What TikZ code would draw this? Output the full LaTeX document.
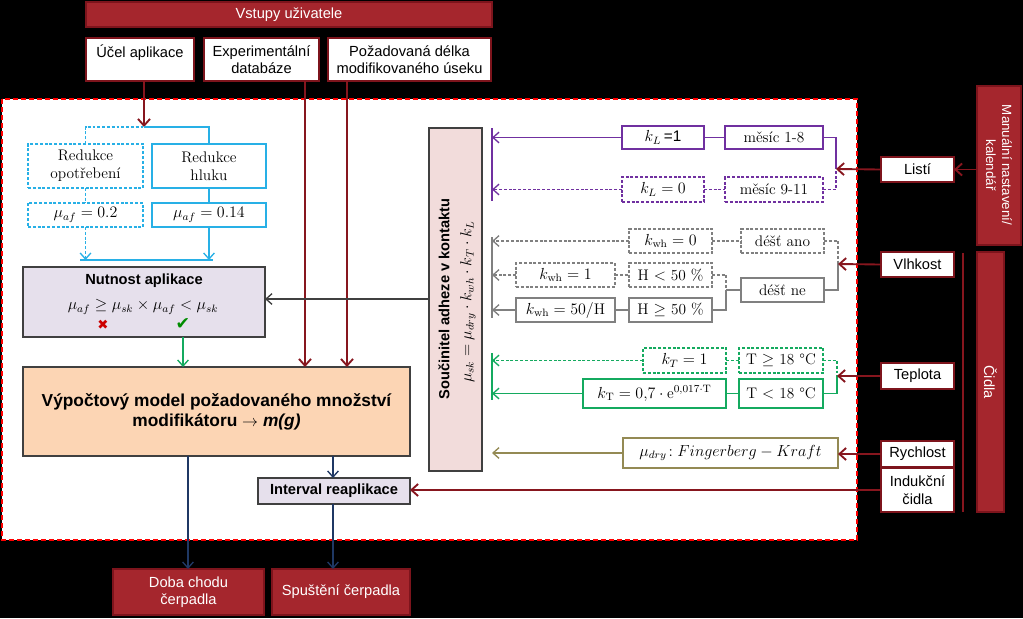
\documentclass[tikz,border=0pt]{standalone}
\usepackage{fontspec}
\newfontfamily\arial{Liberation Sans}
\newfontfamily\dejavu{DejaVu Sans}
\usetikzlibrary{arrows.meta}
\definecolor{hdrred}{RGB}{165,38,45}
\definecolor{hdrline}{RGB}{125,20,28}
\definecolor{dred}{RGB}{135,22,30}
\definecolor{cblue}{RGB}{40,176,230}
\definecolor{cpurple}{RGB}{112,48,160}
\definecolor{cgray}{RGB}{128,128,128}
\definecolor{cgreen}{RGB}{20,170,95}
\definecolor{colive}{RGB}{148,138,84}
\definecolor{cnavy}{RGB}{31,56,100}
\definecolor{fpink}{RGB}{242,220,219}
\definecolor{flav}{RGB}{230,224,236}
\definecolor{fpeach}{RGB}{252,213,180}
\definecolor{cframe}{RGB}{64,64,64}
\newcommand\mybox[7]{\node[#6, minimum width={(#4-#2)*0.75pt}, minimum height={(#5-#3)*0.75pt}] (#1) at ({(#2+#4)/2},{(#3+#5)/2}) {#7};}
\begin{document}
\begin{tikzpicture}[x=0.75pt,y=-0.75pt,
  base/.style={inner sep=0pt, outer sep=0pt, align=center},
  sansf/.style={font=\arial\fontsize{11}{13}\selectfont},
  hdr/.style={base, sansf, fill=hdrred, draw=hdrline, line width=0.8pt, text=white},
  inp/.style={base, sansf, fill=white, draw=hdrline, line width=1.1pt},
  sbox/.style={base, fill=white, line width=1pt, font=\fontsize{11.5}{13.5}\selectfont},
  dsh/.style={dash pattern=on 2.2pt off 1.4pt},
  bluedash/.style={sbox, draw=cblue, dsh},
  bluesolid/.style={sbox, draw=cblue},
  purp/.style={sbox, draw=cpurple},
  purpd/.style={sbox, draw=cpurple, dsh},
  grays/.style={sbox, draw=cgray},
  grayd/.style={sbox, draw=cgray, dsh},
  greens/.style={sbox, draw=cgreen},
  greend/.style={sbox, draw=cgreen, dsh},
  olivebox/.style={sbox, draw=colive},
  nutbox/.style={base, fill=flav, draw=cframe, line width=1.1pt},
  modelbox/.style={base, fill=fpeach, draw=cframe, line width=1.1pt, font=\arial\bfseries\fontsize{13}{15}\selectfont},
  intbox/.style={base, fill=flav, draw=cframe, line width=1.1pt, font=\arial\bfseries\fontsize{11}{13}\selectfont},
  soucbox/.style={base, fill=fpink, draw=cframe, line width=1.1pt},
  arr/.style={-{Straight Barb[length=4.5pt,width=8pt]}},
  darr/.style={-{Straight Barb[length=5pt,width=9pt]}, draw=dred, line width=1.4pt},
  thin/.style={line width=1pt}
]
\fill[black] (0,0) rectangle (1023,618);
\useasboundingbox (0,0) rectangle (1023,618);
\draw[fill=white, draw=red, line width=1.4pt, dash pattern=on 4pt off 2pt] (2,99) rectangle (857,540);

% top inputs
\mybox{vstupy}{86}{2}{492}{27}{hdr}{Vstupy uživatele}
\mybox{ucel}{86}{38}{194}{81}{inp}{Účel aplikace\\\mbox{}}
\mybox{exper}{204}{38}{319}{81}{inp}{Experimentální\\databáze}
\mybox{pozad}{328}{38}{491}{81}{inp}{Požadovaná délka\\modifikovaného úseku}

% blue part
\coordinate (bt) at (144,127);
\mybox{redo}{28}{144}{143}{188}{bluedash}{Redukce\\opotřebení}
\mybox{redh}{152}{144}{266}{188}{bluesolid}{Redukce\\hluku}
\mybox{muo}{28}{203}{143}{227}{bluedash}{$\mu_{af}=0.2$}
\mybox{muh}{152}{203}{266}{227}{bluesolid}{$\mu_{af}=0.14$}
\draw[darr] (bt |- ucel.south) -- (bt);
\draw[cblue, thin, dsh] (redo.north) |- (bt);
\draw[cblue, thin] (bt) -| (redh.north);
\draw[cblue, thin, dsh] (redo.south) -- (muo.north);
\draw[cblue, thin] (redh.south) -- (muh.north);
\coordinate (bl) at (80,260);
\coordinate (br) at (213,260);
\draw[cblue, thin] (bl) -- (br);
\draw[cblue, thin, dsh, arr] (muo.south) -- (muo.south |- bl);
\draw[cblue, thin, arr] (muh.south) -- (muh.south |- bl);

% Nutnost aplikace
\mybox{nut}{23}{267}{265}{337}{nutbox}{}
\node[font=\arial\bfseries\fontsize{11}{13}\selectfont] (nutt) at (144,281) {Nutnost aplikace};
\node[font=\fontsize{11.5}{13.5}\selectfont] (nutf) at (143,307) {$\mu_{af} \geq \mu_{sk} \times \mu_{af} < \mu_{sk}$};
\node[text=red!80!black, font=\dejavu\fontsize{10}{10}\selectfont, inner sep=0pt] (crs) at (103,325) {✖};
\node[text=green!55!black, font=\dejavu\fontsize{13}{13}\selectfont, inner sep=0pt] (chk) at (183,324) {✔};

% model
\mybox{model}{23}{367}{410}{456}{modelbox}{Výpočtový model požadovaného množství\\modifikátoru $\rightarrow$ \textit{m(g)}}
\draw[cgreen, thin, arr] (nut.south -| chk) -- (model.north -| chk);
\coordinate (ea) at (305,0);
\coordinate (pa) at (347,0);
\draw[darr] (exper.south -| ea) -- (model.north -| ea);
\draw[darr] (pozad.south -| pa) -- (model.north -| pa);

% interval and outputs
\mybox{intv}{258}{478}{410}{504}{intbox}{Interval reaplikace}
\mybox{doba}{113}{569}{264}{615}{hdr}{Doba chodu\\čerpadla}
\mybox{spust}{272}{569}{410}{615}{hdr}{Spuštění čerpadla}
\coordinate (na) at (333,0);
\coordinate (nb) at (188,0);
\draw[cnavy, thin, arr] (model.south -| na) -- (intv.north -| na);
\draw[cnavy, thin, arr] (model.south -| nb) -- (doba.north -| nb);
\draw[cnavy, thin, arr] (intv.south -| na) -- (spust.north -| na);

% soucinitel
\mybox{souc}{429}{128}{482}{471}{soucbox}{}
\node[rotate=90, font=\arial\bfseries\fontsize{11}{13}\selectfont] (souct) at (444,299) {Součinitel adheze v kontaktu};
\node[rotate=90, font=\fontsize{11.5}{13.5}\selectfont] (soucf) at (468,302) {$\mu_{sk}=\mu_{dry}\cdot k_{wh}\cdot k_{T}\cdot k_{L}$};
\coordinate (sy) at (0,299);
\draw[cframe, thin, arr] (souc.west |- sy) -- (nut.east |- sy);

% purple
\coordinate (pv1) at (492,128);
\coordinate (pv2) at (492,201);
\draw[cpurple, thin] (pv1) -- (pv2);
\mybox{kl1}{622}{126}{704}{149}{purp}{$k_L$\,{\arial =1}}
\mybox{m18}{725}{126}{823}{149}{purp}{měsíc 1-8}
\mybox{kl0}{622}{177}{704}{202}{purpd}{$k_L = 0$}
\mybox{m911}{725}{177}{823}{202}{purpd}{měsíc 9-11}
\draw[cpurple, thin, arr] (kl1.west) -- (kl1.west -| pv1);
\draw[cpurple, thin] (kl1.east) -- (m18.west);
\draw[cpurple, thin, dsh, arr] (kl0.west) -- (kl0.west -| pv1);
\draw[cpurple, thin, dsh] (kl0.east) -- (m911.west);
\coordinate (pbm) at (836,169);
\draw[cpurple, thin] (m18.east) -| (pbm);
\draw[cpurple, thin, dsh] (m911.east) -| (pbm);

% gray
\coordinate (gv1) at (492,237);
\coordinate (gv2) at (492,318);
\draw[cgray, thin] (gv1) -- (gv2);
\mybox{kw0}{629}{229}{712}{253}{grayd}{$k_{\mathrm{wh}} = 0$}
\mybox{dano}{741}{229}{824}{253}{grayd}{déšť ano}
\mybox{kw1}{516}{263}{615}{287}{grayd}{$k_{\mathrm{wh}} = 1$}
\mybox{hl}{629}{263}{712}{287}{grayd}{H $<$ 50 \%}
\mybox{kw50}{516}{298}{615}{322}{grays}{$k_{\mathrm{wh}} = 50/\mathrm{H}$}
\mybox{hg}{629}{298}{712}{322}{grays}{H $\geq$ 50 \%}
\mybox{dne}{741}{278}{824}{302}{grays}{déšť ne}
\draw[cgray, thin, dsh, arr] (kw0.west) -- (kw0.west -| gv1);
\draw[cgray, thin, dsh] (kw0.east) -- (dano.west);
\draw[cgray, thin, dsh, arr] (kw1.west) -- (kw1.west -| gv1);
\draw[cgray, thin, dsh] (kw1.east) -- (hl.west);
\draw[cgray, thin, arr] (kw50.west) -- (kw50.west -| gv1);
\draw[cgray, thin] (kw50.east) -- (hg.west);
\coordinate (gb1) at (726,290);
\draw[cgray, thin, dsh] (hl.east) -| (gb1);
\draw[cgray, thin] (hg.east) -| (gb1);
\draw[cgray, thin] (gb1) -- (dne.west);
\coordinate (gb2) at (838,264);
\draw[cgray, thin, dsh] (dano.east) -| (gb2);
\draw[cgray, thin] (dne.east) -| (gb2);

% green
\coordinate (tv1) at (492,353);
\coordinate (tv2) at (492,400);
\draw[cgreen, thin] (tv1) -- (tv2);
\mybox{kt1}{643}{348}{726}{373}{greend}{$k_T = 1$}
\mybox{tg}{739}{348}{823}{373}{greend}{T $\geq$ 18 °C}
\mybox{kt07}{583}{379}{726}{408}{greens}{$k_{\mathrm{T}} = 0{,}7\cdot \mathrm{e}^{0{,}017\cdot \mathrm{T}}$}
\mybox{tl}{739}{379}{823}{408}{greens}{T $<$ 18 °C}
\draw[cgreen, thin, dsh, arr] (kt1.west) -- (kt1.west -| tv1);
\draw[cgreen, thin, dsh] (kt1.east) -- (tg.west);
\draw[cgreen, thin, arr] (kt07.west) -- (kt07.west -| tv1);
\draw[cgreen, thin] (kt07.east) -- (tl.west);
\coordinate (tb) at (837,376);
\draw[cgreen, thin, dsh] (tg.east) -| (tb);
\draw[cgreen, thin] (tl.east) -| (tb);

% olive
\mybox{fk}{623}{438}{838}{468}{olivebox}{$\mu_{dry}\!: Fingerberg - Kraft$}
\coordinate (ov) at (492,453);
\draw[colive, thin, arr] (fk.west) -- (fk.west -| ov);

% right column
\mybox{listi}{881}{157}{954}{182}{inp}{Listí}
\mybox{vlh}{881}{252}{954}{277}{inp}{Vlhkost}
\mybox{tepl}{881}{363}{954}{389}{inp}{Teplota}
\mybox{rych}{881}{441}{954}{467}{inp}{Rychlost}
\mybox{ind}{881}{468}{954}{512}{inp}{Indukční\\čidla}
\mybox{man}{977}{86}{1021}{245}{hdr}{}
\node[rotate=-90, align=center, text=white, font=\arial\fontsize{10}{12}\selectfont] (mant) at (999,165) {Manuální nastavení/\\kalendář};
\mybox{cidla}{977}{252}{1004}{512}{hdr}{}
\node[rotate=-90, text=white, font=\arial\fontsize{11}{13}\selectfont] (cidt) at (990.5,382) {Čidla};
\coordinate (rv1) at (963,253);
\coordinate (rv2) at (963,512);
\draw[dred, line width=1pt] (rv1) -- (rv2);

\draw[darr] (man.west |- listi) -- (listi.east);
\draw[darr] (listi.west) -- (pbm);
\draw[darr] (vlh.west) -- (gb2);
\draw[darr] (tepl.west) -- (tb);
\draw[darr] (rych.west) -- (rych.west -| fk.east);
\draw[darr] (ind.west) -- (ind.west -| intv.east);
\end{tikzpicture}
\end{document}
